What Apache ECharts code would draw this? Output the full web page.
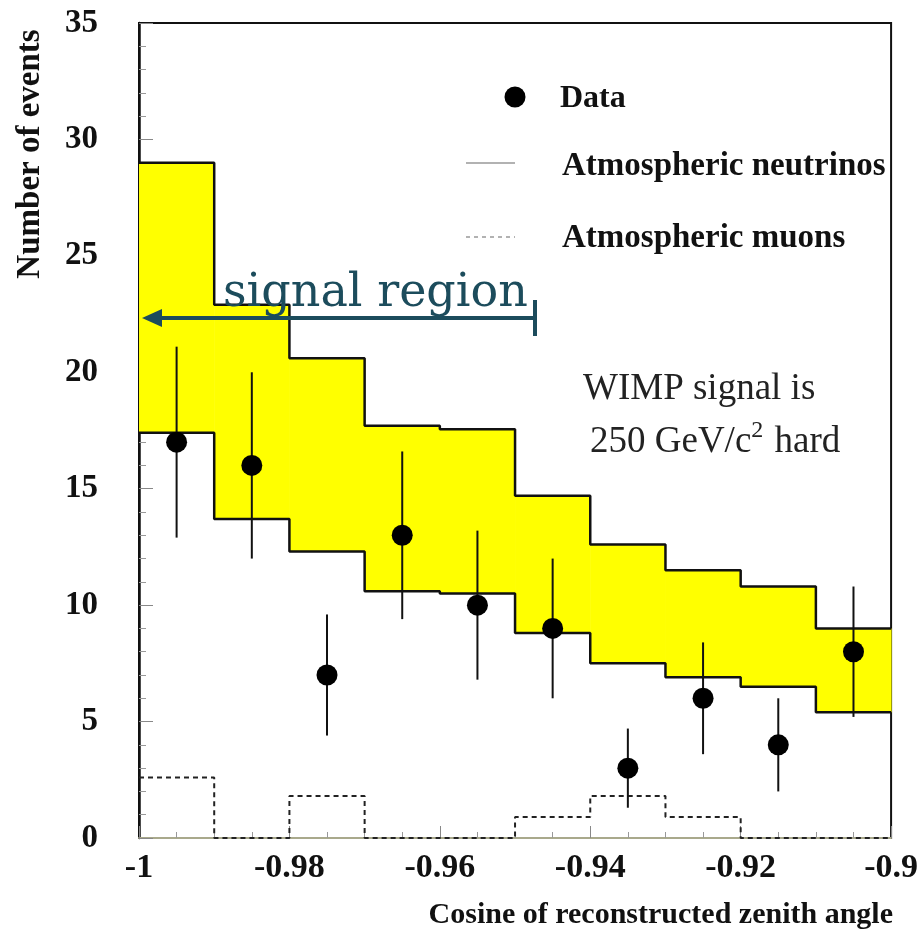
<!DOCTYPE html>
<html>
<head>
<meta charset="utf-8">
<script src="https://cdn.jsdelivr.net/npm/echarts@6/dist/echarts.min.js"></script>
<style>
html,body{margin:0;padding:0;background:#fff;}
#chart{width:921px;height:939px;}
</style>
</head>
<body>
<div id="chart"></div>
<script>
// ---- data ----
var binEdges = [-1, -0.99, -0.98, -0.97, -0.96, -0.95, -0.94, -0.93, -0.92, -0.91, -0.9];
var binCenters = [-0.995, -0.985, -0.975, -0.965, -0.955, -0.945, -0.935, -0.925, -0.915, -0.905];
var neutrinoUpper = [29.0, 22.9, 20.6, 17.7, 17.55, 14.7, 12.6, 11.5, 10.8, 9.0];
var neutrinoLower = [17.4, 13.7, 12.3, 10.6, 10.5, 8.8, 7.5, 6.9, 6.5, 5.4];
var muons = [2.6, 0, 1.8, 0, 0, 0.9, 1.8, 0.9, 0, 0];
var dataCounts = [17, 16, 7, 13, 10, 9, 3, 6, 4, 8];
var errLow = [12.9, 12.0, 4.4, 9.4, 6.8, 6.0, 1.3, 3.6, 2.0, 5.2];
var errHigh = [21.1, 20.0, 9.6, 16.6, 13.2, 12.0, 4.7, 8.4, 6.0, 10.8];
var xTicks = [-1, -0.98, -0.96, -0.94, -0.92, -0.9];
var yTicks = [0, 5, 10, 15, 20, 25, 30, 35];

function stepData(vals) {
  var out = [];
  for (var i = 0; i < vals.length; i++) out.push([binEdges[i], vals[i]]);
  out.push([binEdges[binEdges.length - 1], vals[vals.length - 1]]);
  return out;
}

var serif = "'Liberation Serif','Times New Roman',serif";
var teal = '#1c4c5c';

var chart = echarts.init(document.getElementById('chart'));
chart.setOption({
  animation: false,
  backgroundColor: '#fff',
  grid: {left: 139, right: 28, top: 23, bottom: 101, show: true, borderColor: '#111', borderWidth: 2, backgroundColor: 'transparent'},
  xAxis: {
    type: 'value', min: -1, max: -0.9, interval: 0.02,
    axisLine: {show: true, onZero: false, lineStyle: {color: '#a9a98c', width: 2}},
    axisTick: {show: true, inside: true, length: 12, lineStyle: {color: '#888', width: 1}},
    minorTick: {show: true, splitNumber: 4, length: 6, lineStyle: {color: '#999', width: 1}},
    splitLine: {show: false},
    axisLabel: {
      margin: 13, color: '#111', fontFamily: serif, fontWeight: 'bold', fontSize: 34,
      formatter: function (v) { return String(parseFloat(v.toFixed(2))); }
    }
  },
  yAxis: {
    type: 'value', min: 0, max: 35, interval: 5,
    axisLine: {show: true, lineStyle: {color: '#111', width: 2.5}},
    axisTick: {show: true, inside: true, length: 14, lineStyle: {color: '#888', width: 1}},
    minorTick: {show: true, splitNumber: 5, length: 7, lineStyle: {color: '#999', width: 1}},
    splitLine: {show: false},
    axisLabel: {margin: 41, color: '#111', fontFamily: serif, fontWeight: 'bold', fontSize: 33}
  },
  series: [
    {
      name: 'band', type: 'custom', z: 1,
      data: neutrinoUpper.map(function (v, i) { return [i]; }),
      renderItem: function (params, api) {
        var i = api.value(0);
        var p0 = api.coord([binEdges[i], neutrinoUpper[i]]);
        var p1 = api.coord([binEdges[i + 1], neutrinoLower[i]]);
        return {type: 'rect', shape: {x: p0[0], y: p0[1], width: p1[0] - p0[0] + 0.5, height: p1[1] - p0[1]},
                style: {fill: '#ffff00'}};
      }
    },
    {
      name: 'Atmospheric neutrinos upper', type: 'line', step: 'end', z: 3,
      data: stepData(neutrinoUpper), symbol: 'none',
      lineStyle: {color: '#111', width: 2.5}
    },
    {
      name: 'Atmospheric neutrinos lower', type: 'line', step: 'end', z: 3,
      data: stepData(neutrinoLower), symbol: 'none',
      lineStyle: {color: '#111', width: 2.5}
    },
    {
      name: 'Atmospheric muons', type: 'line', step: 'end', z: 4,
      data: stepData(muons), symbol: 'none',
      lineStyle: {color: '#222', width: 2, type: [5, 4]}
    },
    {
      name: 'errors', type: 'custom', z: 5,
      data: dataCounts.map(function (v, i) { return [binCenters[i], errLow[i], errHigh[i]]; }),
      renderItem: function (params, api) {
        var a = api.coord([api.value(0), api.value(1)]);
        var b = api.coord([api.value(0), api.value(2)]);
        return {type: 'line', shape: {x1: a[0], y1: a[1], x2: b[0], y2: b[1]},
                style: {stroke: '#111', lineWidth: 2}};
      }
    },
    {
      name: 'Data', type: 'scatter', z: 6,
      data: dataCounts.map(function (v, i) { return [binCenters[i], v]; }),
      symbol: 'circle', symbolSize: 21,
      itemStyle: {color: '#000', opacity: 1}
    }
  ],
  graphic: [
    // axis titles
    {type: 'text', x: 30, y: 154, rotation: Math.PI / 2, z: 10,
     style: {text: 'Number of events', font: 'bold 33px ' + serif, fill: '#111', textAlign: 'center', textVerticalAlign: 'middle'}},
    {type: 'text', x: 893, y: 915, z: 10,
     style: {text: 'Cosine of reconstructed zenith angle', font: 'bold 30px ' + serif, fill: '#111', textAlign: 'right', textVerticalAlign: 'middle'}},
    // legend
    {type: 'circle', shape: {cx: 515, cy: 97, r: 10.5}, style: {fill: '#000'}, z: 10},
    {type: 'text', x: 560, y: 99, z: 10,
     style: {text: 'Data', font: 'bold 32px ' + serif, fill: '#111', textVerticalAlign: 'middle'}},
    {type: 'line', shape: {x1: 466, y1: 163, x2: 515, y2: 163}, style: {stroke: '#999', lineWidth: 1.5}, z: 10},
    {type: 'text', x: 562, y: 166, z: 10,
     style: {text: 'Atmospheric neutrinos', font: 'bold 33px ' + serif, fill: '#111', textVerticalAlign: 'middle'}},
    {type: 'line', shape: {x1: 466, y1: 237, x2: 515, y2: 237}, style: {stroke: '#999', lineWidth: 1.5, lineDash: [4, 4]}, z: 10},
    {type: 'text', x: 562, y: 238, z: 10,
     style: {text: 'Atmospheric muons', font: 'bold 33px ' + serif, fill: '#111', textVerticalAlign: 'middle'}},
    // WIMP annotation
    {type: 'text', x: 583, y: 389, z: 10,
     style: {text: 'WIMP signal is', font: '37px ' + serif, fill: '#222', textVerticalAlign: 'middle'}},
    {type: 'text', x: 590, y: 442, z: 10,
     style: {
       text: '{n|250 GeV/c}{s|2}{n| hard}', fill: '#222', textVerticalAlign: 'middle',
       rich: {n: {font: '37px ' + serif, fill: '#222'}, s: {font: '24px ' + serif, fill: '#222', verticalAlign: 'top', padding: [0, 2, 22, 0]}}
     }},
    // signal region arrow
    {type: 'text', x: 223, y: 317, z: 10,
     style: {text: 'signal region', font: "46px 'DejaVu Serif', serif", fill: teal, textVerticalAlign: 'bottom'}},
    {type: 'line', shape: {x1: 155, y1: 318, x2: 535, y2: 318}, style: {stroke: teal, lineWidth: 4}, z: 11},
    {type: 'line', shape: {x1: 535, y1: 300, x2: 535, y2: 336}, style: {stroke: teal, lineWidth: 4}, z: 11},
    {type: 'polygon', shape: {points: [[142, 318], [162, 309], [162, 327]]}, style: {fill: teal}, z: 11}
  ]
});
</script>
</body>
</html>
